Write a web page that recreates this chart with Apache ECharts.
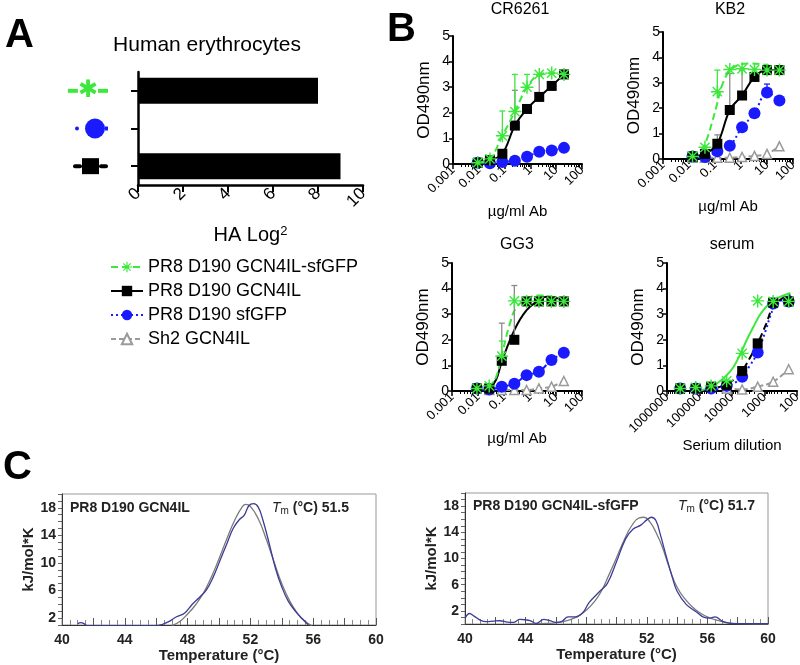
<!DOCTYPE html>
<html>
<head>
<meta charset="utf-8">
<script src="https://cdn.jsdelivr.net/npm/echarts@6/dist/echarts.min.js"></script>
<style>html,body{margin:0;background:#fff}#chart{width:800px;height:665px}</style>
</head>
<body>
<div id="chart"></div>
<script>
// ---- data ----
var names = ['PR8 D190 GCN4IL-sfGFP', 'PR8 D190 GCN4IL', 'PR8 D190 sfGFP', 'Sh2 GCN4IL'];

// panel A
var haNames = ['PR8 D190 GCN4IL-sfGFP', 'PR8 D190 sfGFP', 'PR8 D190 GCN4IL'];
var haLog2 = [8, 0, 9];
var haTicks = [0, 2, 4, 6, 8, 10];

// panel B
var abConc = [0.0091, 0.027, 0.082, 0.25, 0.74, 2.2, 6.7, 20];
var kb2Conc = [0.0137, 0.041, 0.123, 0.37, 1.1, 3.3, 10, 30];
var serumDil = [393660, 131220, 43740, 14580, 4860, 1620, 540, 180];

var crGreen = [0.05, 0.2, 1.1, 2.05, 3.0, 3.5, 3.55, 3.5];
var crBlack = [0.05, 0.15, 0.4, 1.5, 2.15, 2.62, 3.05, 3.5];
var crBlue = [0.05, 0.03, 0.08, 0.13, 0.28, 0.48, 0.53, 0.63];
var crGreenHi = [null, null, 2.07, 3.5, 3.5, null, null, null];
var crBlackHi = [null, null, null, 2.88, null, 3.45, null, null];

var kbGreen = [0.1, 0.46, 2.65, 3.52, 3.55, 3.52, 3.5, 3.5];
var kbBlack = [0.1, 0.2, 0.6, 1.93, 2.5, 3.23, 3.5, 3.5];
var kbBlue = [0.1, 0.08, 0.3, 0.52, 1.25, 1.8, 2.62, 2.3];
var kbGrey = [0.05, 0.05, 0.05, 0.05, 0.08, 0.12, 0.2, 0.5];
var kbGreenHi = [null, null, 3.5, null, null, null, null, null];
var kbBlackHi = [null, null, 0.95, 3.37, 3.5, null, null, null];
var kbBlueHi = [null, null, null, null, null, null, 2.95, null];
var kbGreenFit = [[0.014, 0.05], [0.03, 0.35], [0.048, 0.76], [0.08, 1.5], [0.113, 2.06], [0.2, 2.98], [0.48, 3.58], [2.1, 3.76], [9.5, 3.7], [30, 3.55]];

var ggGreen = [0.1, 0.2, 1.36, 3.52, 3.5, 3.5, 3.5, 3.5];
var ggBlack = [0.1, 0.1, 1.18, 2.0, 3.5, 3.5, 3.5, 3.5];
var ggBlue = [0.1, 0.06, 0.17, 0.28, 0.62, 0.75, 1.21, 1.49];
var ggGrey = [null, 0.04, 0.04, 0.04, 0.04, 0.1, 0.17, 0.39];
var ggGreenHi = [null, null, 1.95, null, null, null, null, null];
var ggBlackHi = [null, null, 2.65, 4.12, null, null, null, null];
var ggGreenFit = [[0.027, 0.1], [0.05, 0.55], [0.082, 1.4], [0.17, 2.65], [0.31, 3.28], [1.0, 3.67], [2.4, 3.73], [7.8, 3.67], [20, 3.55]];
var ggBlackFit = [[0.027, 0.05], [0.05, 0.45], [0.082, 1.14], [0.25, 2.38], [0.74, 3.16], [2.2, 3.55], [4.3, 3.68], [20, 3.55]];

var seGreen = [0.1, 0.14, 0.2, 0.4, 1.47, 3.52, 3.5, 3.5];
var seBlack = [0.1, 0.1, 0.17, 0.24, 0.78, 1.86, 3.45, 3.5];
var seBlue = [0.1, 0.1, 0.1, 0.2, 0.56, 1.5, 3.42, 3.5];
var seGrey = [null, null, null, 0.1, 0.06, 0.17, 0.36, 0.85];
var seGreenFit = [[90000, 0.02], [59000, 0.1], [29000, 0.3], [15000, 0.6], [8900, 0.95], [5500, 1.45], [3500, 2.0], [2200, 2.5], [1350, 3.0], [800, 3.35], [520, 3.55], [300, 3.7], [160, 3.83]];
var seBlackFit = [[60000, 0.05], [30000, 0.12], [14000, 0.3], [7500, 0.5], [4900, 0.78], [2800, 1.3], [1620, 1.86], [900, 2.6], [540, 3.3], [300, 3.6], [160, 3.75]];
var seBlueFit = [[30000, 0.05], [14000, 0.18], [7500, 0.35], [4900, 0.56], [2800, 1.0], [1620, 1.5], [900, 2.4], [540, 3.2], [300, 3.55], [160, 3.7]];

// panel C
var dscLeftData = [[41.0, 1.2], [41.2, 1.35], [41.4, 1.2], [41.6, 0.9], [46.0, 0.9], [46.4, 1.1], [46.8, 1.5], [47.3, 2.2], [47.8, 2.7], [48.3, 4.0], [48.8, 5.1], [49.2, 6.1], [49.6, 7.8], [50.0, 10.0], [50.5, 12.8], [50.9, 15.0], [51.3, 16.3], [51.6, 16.9], [51.9, 18.3], [52.2, 18.6], [52.5, 18.1], [52.8, 16.2], [53.2, 12.8], [53.6, 9.2], [54.0, 6.5], [54.4, 4.5], [54.9, 2.9], [55.3, 1.9], [55.7, 1.0]];
var dscLeftFit = [[47.0, 0.9], [47.5, 1.5], [48.0, 2.6], [48.5, 3.9], [49.0, 5.6], [49.5, 7.9], [50.0, 10.6], [50.5, 13.5], [51.0, 16.2], [51.5, 18.2], [51.7, 18.5], [52.0, 18.2], [52.5, 16.4], [53.0, 13.5], [53.5, 10.2], [54.0, 7.0], [54.5, 4.5], [55.0, 2.7], [55.5, 1.5], [55.9, 0.9]];
var dscRightData = [[40.0, 0.9], [40.3, 1.6], [40.6, 1.2], [41.0, 0.6], [41.4, 0.35], [41.9, 0.45], [42.3, 0.5], [42.8, 0.3], [43.2, 0.25], [43.6, 0.7], [44.0, 0.65], [44.3, 0.5], [44.7, 0.1], [45.2, 0.7], [45.6, 0.5], [46.0, 0.25], [46.4, 0.4], [46.8, 1.1], [47.3, 1.1], [47.8, 1.8], [48.2, 3.3], [48.9, 5.0], [49.4, 6.2], [50.0, 9.5], [50.6, 13.0], [51.1, 14.5], [51.6, 15.1], [52.0, 15.9], [52.3, 16.3], [52.6, 15.8], [52.9, 13.6], [53.3, 10.2], [53.7, 7.0], [54.0, 5.0], [54.6, 3.0], [55.3, 1.8], [55.7, 1.1], [56.2, 0.9], [56.5, 1.1], [57.0, 0.4], [57.5, 0.1], [58.0, 0.05], [60.0, 0.05]];
var dscRightFit = [[44.0, 0.05], [45.5, 0.1], [46.5, 0.35], [47.4, 1.1], [48.0, 2.1], [48.5, 3.3], [49.0, 5.0], [49.5, 7.5], [50.0, 10.1], [50.5, 12.8], [51.0, 15.0], [51.5, 16.2], [51.8, 16.3], [52.2, 15.6], [52.6, 14.0], [53.0, 11.9], [53.5, 8.5], [54.0, 5.6], [54.6, 3.6], [55.2, 2.2], [55.8, 1.3], [56.6, 0.6], [57.7, 0.1], [60.0, 0]];
var tempLabels = [40, 44, 48, 52, 56, 60];
var kjLabels = [2, 6, 10, 14, 18];

// ---- styles ----
var FONT = '"Liberation Sans", Arial, sans-serif';
var GREEN = '#3be83b', BLUE = '#1a1aff', GREY = '#9a9a9a', NAVY = '#3b3b98', ERR = '#8a8a8a';
var STAR = 'path://M-1,-9h2v18h-2z M-9,-1h18v2h-18z M-7.1,-5.7L-5.7,-7.1L7.1,5.7L5.7,7.1z M5.7,-7.1L7.1,-5.7L-5.7,7.1L-7.1,5.7z';
var G = [
  {name: names[0], color: GREEN, symbol: STAR, size: 13, z: 8},
  {name: names[1], color: '#000', symbol: 'rect', size: 10, z: 7},
  {name: names[2], color: BLUE, symbol: 'circle', size: 12, z: 6},
  {name: names[3], color: GREY, symbol: 'triangle', size: 9, z: 5, hollow: true}
];
var DASH = [7, 4], DOT = [2, 3], GDASH = [5, 3], DASHDOT = [6, 3, 2, 3];

function pts(xs, ys) {
  var out = [];
  for (var i = 0; i < xs.length; i++) if (ys[i] != null) out.push([xs[i], ys[i]]);
  return out;
}
function errPts(xs, ys, hi) {
  var out = [];
  for (var i = 0; i < xs.length; i++) if (hi[i] != null) out.push([xs[i], ys[i], hi[i]]);
  return out;
}
function marks(ax, g, data, lineType, drawLine) {
  return {
    type: 'line', name: g.name, xAxisIndex: ax, yAxisIndex: ax, data: data,
    smooth: 0.35, symbol: g.symbol, symbolSize: g.size, showSymbol: true, z: g.z,
    itemStyle: g.hollow ? {color: '#fff', borderColor: g.color, borderWidth: 1.5} : {color: g.color, borderWidth: 0},
    lineStyle: {color: g.color, width: 2, type: lineType, opacity: drawLine ? 1 : 0},
    emphasis: {disabled: true}, animation: false
  };
}
function fit(ax, color, data, lineType) {
  return {
    type: 'line', xAxisIndex: ax, yAxisIndex: ax, data: data, smooth: 0.4, symbol: 'none', z: 3,
    lineStyle: {color: color, width: 2, type: lineType}, emphasis: {disabled: true}, animation: false
  };
}
function errs(ax, color, data) {
  return {
    type: 'custom', xAxisIndex: ax, yAxisIndex: ax, data: data, z: 4, animation: false,
    renderItem: function (p, api) {
      var a = api.coord([api.value(0), api.value(1)]);
      var b = api.coord([api.value(0), api.value(2)]);
      return {type: 'group', children: [
        {type: 'line', shape: {x1: a[0], y1: a[1], x2: b[0], y2: b[1]}, style: {stroke: color, lineWidth: 1.3}},
        {type: 'line', shape: {x1: b[0] - 3, y1: b[1], x2: b[0] + 3, y2: b[1]}, style: {stroke: color, lineWidth: 1.3}}
      ]};
    }
  };
}

function logFmt(v) {
  return v >= 1 ? String(Math.round(v)) : String(parseFloat(v.toPrecision(2)));
}
function bX(gi, name, min, max, inverse) {
  return {
    type: 'log', logBase: 10, gridIndex: gi, min: min, max: max, inverse: !!inverse,
    name: name, nameLocation: 'middle', nameGap: 40,
    nameTextStyle: {fontSize: 15, color: '#000', fontFamily: FONT},
    axisLine: {show: true, onZero: false, lineStyle: {color: '#000', width: 2}},
    axisTick: {show: true, length: 5, lineStyle: {color: '#000', width: 1.5}},
    minorTick: {show: true, splitNumber: 9, length: 3, lineStyle: {color: '#000', width: 1}},
    axisLabel: {rotate: 45, fontSize: 13, color: '#000', margin: 4, formatter: logFmt},
    splitLine: {show: false}, minorSplitLine: {show: false}
  };
}
function bY(gi) {
  return {
    type: 'value', gridIndex: gi, min: 0, max: 5, interval: 1,
    name: 'OD490nm', nameLocation: 'middle', nameGap: 20,
    nameTextStyle: {fontSize: 17, color: '#000', fontFamily: FONT},
    axisLine: {show: true, lineStyle: {color: '#000', width: 2}},
    axisTick: {show: true, length: 4, lineStyle: {color: '#000', width: 1.5}},
    axisLabel: {fontSize: 14, color: '#000', margin: 3},
    splitLine: {show: false}
  };
}
function cX(gi) {
  return {
    type: 'value', gridIndex: gi, min: 40, max: 60, interval: 2,
    name: 'Temperature (°C)', nameLocation: 'middle', nameGap: 23,
    nameTextStyle: {fontSize: 15, fontWeight: 'bold', color: '#222', fontFamily: FONT},
    axisLine: {show: true, lineStyle: {color: '#333', width: 1}},
    axisTick: {show: true, inside: true, length: 7, lineStyle: {color: '#555'}},
    minorTick: {show: true, splitNumber: 4, length: 5, lineStyle: {color: '#888'}},
    axisLabel: {customValues: tempLabels, fontSize: 14, fontWeight: 'bold', color: '#222', margin: 8},
    splitLine: {show: false}
  };
}
function cY(gi, min) {
  return {
    type: 'value', gridIndex: gi, min: min, max: 20, interval: 1,
    name: 'kJ/mol*K', nameLocation: 'middle', nameGap: 23,
    nameTextStyle: {fontSize: 15, fontWeight: 'bold', color: '#222', fontFamily: FONT},
    axisLine: {show: true, lineStyle: {color: '#333', width: 1}},
    axisTick: {show: true, length: 4, lineStyle: {color: '#666'}},
    axisLabel: {customValues: kjLabels, fontSize: 14, fontWeight: 'bold', color: '#222', margin: 6},
    splitLine: {show: false}
  };
}
function txt(x, y, text, size, extra) {
  var st = {text: text, fill: '#000', fontSize: size, fontFamily: FONT, align: 'center', verticalAlign: 'middle'};
  for (var k in extra) st[k] = extra[k];
  return {type: 'text', x: x, y: y, style: st, z: 10};
}

var labelRich = {
  gl: {width: 10, height: 4, backgroundColor: GREEN},
  gs: {color: GREEN, fontSize: 24, fontFamily: 'DejaVu Sans', fontWeight: 'bold'},
  bd: {width: 4, height: 4, borderRadius: 2, backgroundColor: BLUE},
  bp: {width: 6, height: 2},
  bc: {width: 20, height: 20, borderRadius: 10, backgroundColor: BLUE},
  bn: {width: 3, height: 4, backgroundColor: BLUE},
  kl: {width: 9, height: 4, borderRadius: 2, backgroundColor: '#000'},
  ks: {width: 17, height: 16, backgroundColor: '#000'}
};
var labelIcons = {};
labelIcons[haNames[0]] = '{gl|}{gs|✱}{gl|}';
labelIcons[haNames[1]] = '{bd|}{bp|}{bc|}{bn|}';
labelIcons[haNames[2]] = '{kl|}{ks|}{kl|}';

var series = [
  {type: 'bar', xAxisIndex: 0, yAxisIndex: 0, data: haLog2, barWidth: 26, itemStyle: {color: '#000'}, animation: false},

  // CR6261
  marks(1, G[2], pts(abConc, crBlue), DOT, true),
  marks(1, G[1], pts(abConc, crBlack), 'solid', true),
  marks(1, G[0], pts(abConc, crGreen), DASH, true),
  errs(1, ERR, errPts(abConc, crBlack, crBlackHi)),
  errs(1, GREEN, errPts(abConc, crGreen, crGreenHi)),

  // KB2
  fit(2, GREEN, kbGreenFit, DASH),
  marks(2, G[3], pts(kb2Conc, kbGrey), GDASH, true),
  marks(2, G[2], pts(kb2Conc, kbBlue), DOT, true),
  marks(2, G[1], pts(kb2Conc, kbBlack), 'solid', true),
  marks(2, G[0], pts(kb2Conc, kbGreen), DASH, false),
  errs(2, ERR, errPts(kb2Conc, kbBlack, kbBlackHi)),
  errs(2, GREEN, errPts(kb2Conc, kbGreen, kbGreenHi)),
  errs(2, BLUE, errPts(kb2Conc, kbBlue, kbBlueHi)),

  // GG3
  fit(3, '#000', ggBlackFit, 'solid'),
  fit(3, GREEN, ggGreenFit, DASH),
  marks(3, G[3], pts(abConc, ggGrey), GDASH, true),
  marks(3, G[2], pts(abConc, ggBlue), DASHDOT, true),
  marks(3, G[1], pts(abConc, ggBlack), 'solid', false),
  marks(3, G[0], pts(abConc, ggGreen), DASH, false),
  errs(3, ERR, errPts(abConc, ggBlack, ggBlackHi)),
  errs(3, GREEN, errPts(abConc, ggGreen, ggGreenHi)),

  // serum
  fit(4, BLUE, seBlueFit, DOT),
  fit(4, '#000', seBlackFit, DASH),
  fit(4, GREEN, seGreenFit, 'solid'),
  marks(4, G[3], pts(serumDil, seGrey), GDASH, true),
  marks(4, G[2], pts(serumDil, seBlue), DOT, false),
  marks(4, G[1], pts(serumDil, seBlack), 'solid', false),
  marks(4, G[0], pts(serumDil, seGreen), DASH, false),

  // DSC
  {type: 'line', xAxisIndex: 5, yAxisIndex: 5, data: dscLeftFit, smooth: 0.5, symbol: 'none', lineStyle: {color: '#7a7a7a', width: 1.3}, animation: false},
  {type: 'line', xAxisIndex: 5, yAxisIndex: 5, data: dscLeftData, smooth: 0.4, symbol: 'none', lineStyle: {color: NAVY, width: 1.3}, animation: false},
  {type: 'line', xAxisIndex: 6, yAxisIndex: 6, data: dscRightFit, smooth: 0.5, symbol: 'none', lineStyle: {color: '#7a7a7a', width: 1.3}, animation: false},
  {type: 'line', xAxisIndex: 6, yAxisIndex: 6, data: dscRightData, smooth: 0.4, symbol: 'none', lineStyle: {color: NAVY, width: 1.3}, animation: false}
];

var tmRich = {
  i: {fontStyle: 'italic', fontSize: 14, fontFamily: FONT, color: '#222'},
  m: {fontSize: 10, fontFamily: FONT, verticalAlign: 'bottom', color: '#222', padding: [6, 0, 0, 0]}
};

var myChart = echarts.init(document.getElementById('chart'));
var option = {
  backgroundColor: '#fff',
  animation: false,
  textStyle: {fontFamily: FONT},
  grid: [
    {left: 138, top: 72, width: 225, height: 113, outerBoundsMode: 'none'},
    {left: 453, top: 36, width: 129, height: 128, outerBoundsMode: 'none'},
    {left: 663, top: 32, width: 130, height: 127, outerBoundsMode: 'none'},
    {left: 452, top: 263, width: 130, height: 128, outerBoundsMode: 'none'},
    {left: 667, top: 263, width: 130, height: 128, outerBoundsMode: 'none'},
    {left: 62, top: 494, width: 314, height: 131, show: true, borderColor: '#999', borderWidth: 1, backgroundColor: 'transparent', outerBoundsMode: 'none'},
    {left: 465, top: 493, width: 303, height: 131, show: true, borderColor: '#999', borderWidth: 1, backgroundColor: 'transparent', outerBoundsMode: 'none'}
  ],
  xAxis: [
    {
      type: 'value', gridIndex: 0, min: haTicks[0], max: haTicks[haTicks.length - 1], interval: 2,
      name: 'HA Log{s|2}', nameLocation: 'middle', nameGap: 40,
      nameTextStyle: {fontSize: 20, color: '#000', fontFamily: FONT, rich: {s: {fontSize: 13, verticalAlign: 'top', color: '#000'}}},
      axisLine: {show: true, lineStyle: {color: '#000', width: 2.5}},
      axisTick: {show: true, length: 7, lineStyle: {color: '#000', width: 2}},
      axisLabel: {rotate: 45, fontSize: 17, color: '#000', margin: 6},
      splitLine: {show: false}
    },
    bX(1, 'µg/ml Ab', 0.001, 100),
    bX(2, 'µg/ml Ab', 0.001, 100),
    bX(3, 'µg/ml Ab', 0.001, 100),
    bX(4, 'Serium dilution', 100, 1000000, true),
    cX(5),
    cX(6)
  ],
  yAxis: [
    {
      type: 'category', gridIndex: 0, data: haNames, inverse: true,
      axisLine: {show: true, lineStyle: {color: '#000', width: 2.5}},
      axisTick: {show: true, alignWithLabel: true, length: 7, lineStyle: {color: '#000', width: 2}},
      axisLabel: {margin: 30, formatter: function (v) { return labelIcons[v]; }, rich: labelRich}
    },
    bY(1), bY(2), bY(3), bY(4),
    cY(5, 1), cY(6, 0)
  ],
  legend: {
    left: 105, top: 253, orient: 'vertical', itemWidth: 32, itemHeight: 13, itemGap: 6,
    selectedMode: false, data: names,
    textStyle: {fontSize: 18, color: '#000', fontFamily: FONT}
  },
  graphic: [
    txt(5, 36, 'A', 40, {fontWeight: 'bold', align: 'left'}),
    txt(387, 30, 'B', 40, {fontWeight: 'bold', align: 'left'}),
    txt(3, 468, 'C', 40, {fontWeight: 'bold', align: 'left'}),
    txt(207, 45, 'Human erythrocytes', 21),
    txt(520, 10, 'CR6261', 16),
    txt(730, 10, 'KB2', 16),
    txt(517, 245, 'GG3', 16),
    txt(732, 245, 'serum', 16),
    txt(70, 508, 'PR8 D190 GCN4IL', 14, {fontWeight: 'bold', align: 'left', fill: '#222'}),
    txt(272, 508, '{i|T}{m|m} (°C) 51.5', 14, {fontWeight: 'bold', align: 'left', fill: '#222', rich: tmRich}),
    txt(473, 506, 'PR8 D190 GCN4IL-sfGFP', 14, {fontWeight: 'bold', align: 'left', fill: '#222'}),
    txt(678, 506, '{i|T}{m|m} (°C) 51.7', 14, {fontWeight: 'bold', align: 'left', fill: '#222', rich: tmRich})
  ],
  series: series
};
myChart.setOption(option);
</script>
</body>
</html>
